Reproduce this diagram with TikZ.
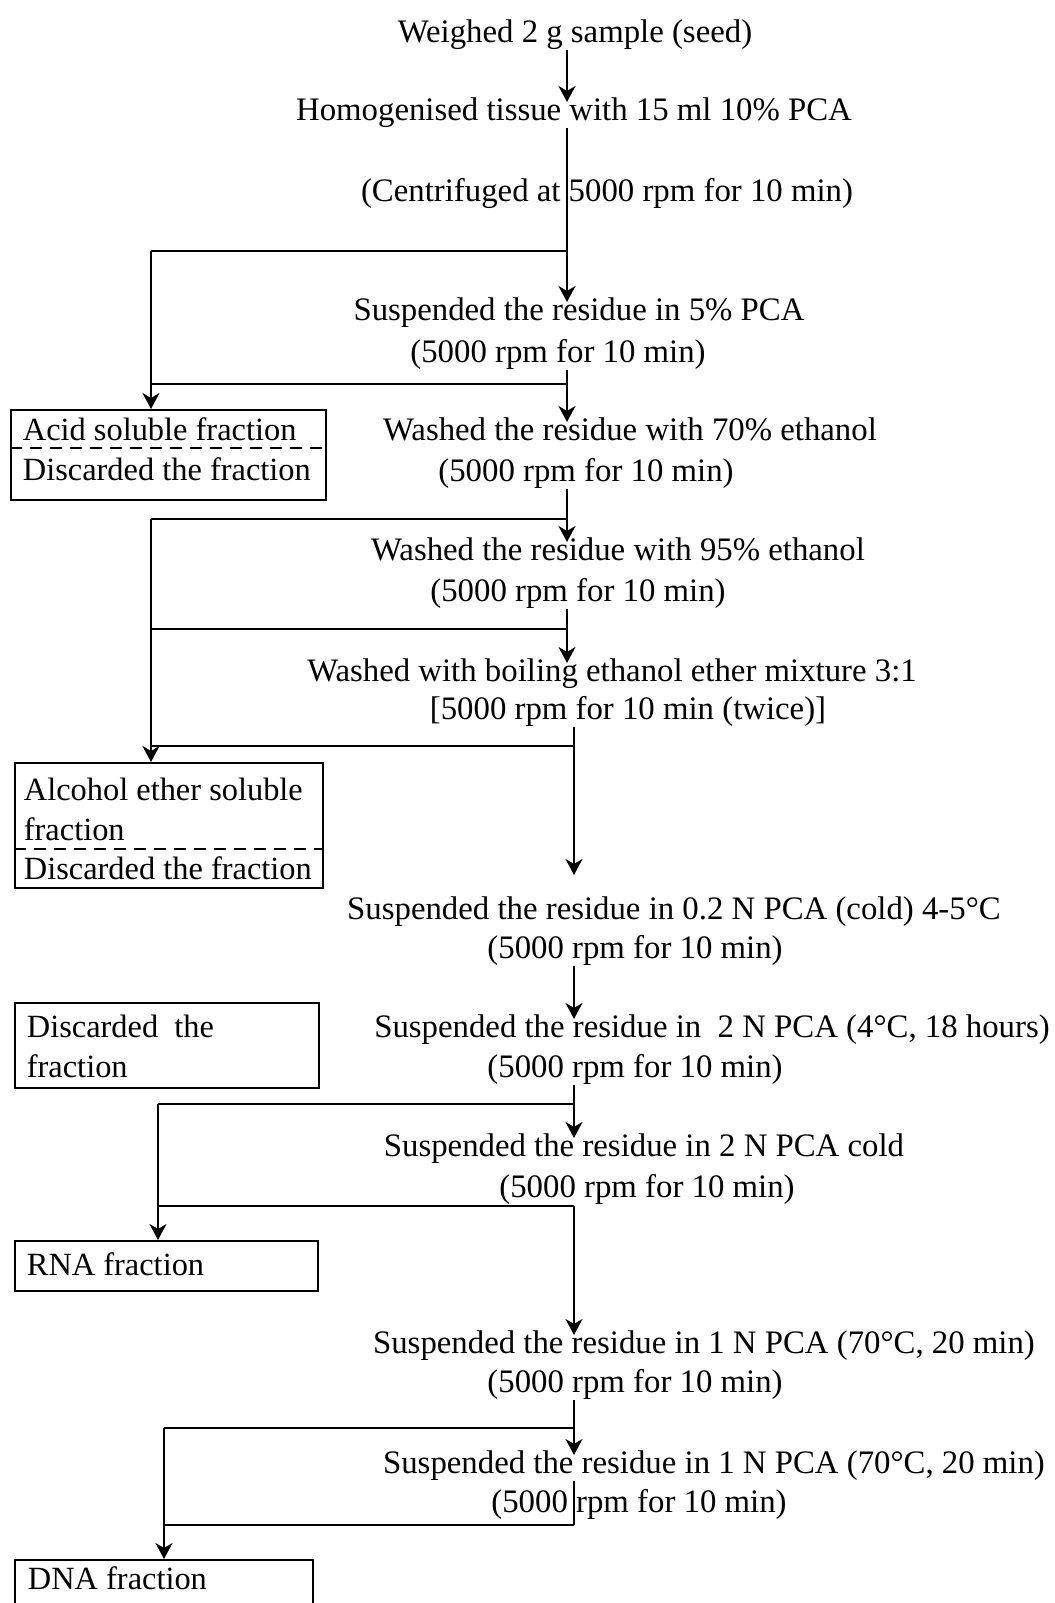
\documentclass[tikz,border=0pt]{standalone}
\usepackage{fontspec}
\setmainfont{Liberation Serif}
\usetikzlibrary{arrows.meta}
\tikzset{
  stage/.style={text height=1.5ex,text depth=.25ex,inner xsep=0pt,inner ysep=2pt,yshift=-3pt},
  fracbox/.style={draw,line width=0.9pt,anchor=north west,align=left,inner ysep=0pt,
    font=\fontsize{16.2}{19.7}\selectfont,execute at begin node={\spaceskip=0pt\xspaceskip=0pt\relax}},
  divider/.style={line width=0.9pt,dash pattern=on 6pt off 4pt}
}
\newcommand{\drawBranch}[5]{% main line, side x, top y, bottom y, box
  \draw (#1 |- 0,#3) to (#2,#3);
  \draw (#1 |- 0,#4) to (#2,#4);
  \draw[->] (#2,#3) to (#5.north -| #2,0);
}

\begin{document}
\begin{tikzpicture}[x=0.5pt,y=-0.5pt,>={Stealth[length=8pt,width=8.5pt,inset=2.5pt]},line width=1pt,font=\fontsize{16.4}{19.7}\selectfont]
\useasboundingbox (0,0) rectangle (1055,1603);
\coordinate (spine) at (567,0);
\coordinate (spineB) at (574,0);

% Steps
\node[stage] (weigh) at (575,31) {Weighed 2 g sample (seed)};
\node[stage] (homog) at (574,109) {Homogenised tissue with 15 ml 10\% PCA};
\node[stage] (centr) at (607,190) {(Centrifuged at 5000 rpm for 10 min)};
\node[stage] (pcaA) at (579,309) {Suspended the residue in 5\% PCA};
\node[stage] (pcaAr) at (558,351) {(5000 rpm for 10 min)};
\node[stage] (ethA) at (630,429) {Washed the residue with 70\% ethanol};
\node[stage] (ethAr) at (586,470) {(5000 rpm for 10 min)};
\node[stage] (ethB) at (618,549) {Washed the residue with 95\% ethanol};
\node[stage] (ethBr) at (578,590) {(5000 rpm for 10 min)};
\node[stage] (boil) at (612,670) {Washed with boiling ethanol ether mixture 3:1};
\node[stage] (boilr) at (628,708) {[5000 rpm for 10 min (twice)]};
\node[stage] (cold) at (674,908) {Suspended the residue in 0.2 N PCA (cold) 4-5°C};
\node[stage] (coldr) at (635,947) {(5000 rpm for 10 min)};
\node[stage] (twoN) at (712,1026) {Suspended the residue in~ 2 N PCA (4°C, 18 hours)};
\node[stage] (twoNr) at (635,1066) {(5000 rpm for 10 min)};
\node[stage] (twoNc) at (644,1145) {Suspended the residue in 2 N PCA cold};
\node[stage] (twoNcr) at (647,1186) {(5000 rpm for 10 min)};
\node[stage] (oneN) at (704,1342) {Suspended the residue in 1 N PCA (70°C, 20 min)};
\node[stage] (oneNr) at (635,1381) {(5000 rpm for 10 min)};
\node[stage] (oneNb) at (714,1462) {Suspended the residue in 1 N PCA (70°C, 20 min)};
\node[stage] (oneNbr) at (639,1501) {(5000 rpm for 10 min)};

% Fractions
\node[fracbox,inner xsep=6pt,text width=145.5pt,text height=15.5pt,text depth=29.5pt] (acid) at (10,409) {Acid soluble fraction\\Discarded the fraction};
\node[fracbox,inner xsep=4.5pt,text width=145pt,text height=19pt,text depth=43.5pt] (alcohol) at (14,762) {Alcohol ether soluble\\fraction\\Discarded the fraction};
\node[fracbox,inner xsep=6pt,text width=140pt,text height=17.5pt,text depth=25pt] (discard) at (14,1002) {Discarded~ the\\fraction};
\node[fracbox,inner xsep=6pt,text width=139.5pt,text height=17.5pt,text depth=7.5pt] (rna) at (14,1240) {RNA fraction};
\node[fracbox,inner xsep=6.5pt,text width=136pt,text height=15pt,text depth=30pt] (dna) at (14,1559) {DNA fraction};
\draw[divider] (acid.west |- 0,448) to (acid.east |- 0,448);
\draw[divider] (alcohol.west |- 0,849) to (alcohol.east |- 0,849);

% Main line
\draw[->] (weigh.south -| spine) to (homog.north -| spine);
\draw[->] (homog.south -| spine) to (pcaA.north -| spine);
\draw[->] (pcaAr.south -| spine) to (ethA.north -| spine);
\draw[->] (ethAr.south -| spine) to (ethB.north -| spine);
\draw[->] (ethBr.south -| spine) to (boil.north -| spine);
\draw[->,shorten >=13pt] (boilr.south -| spineB) to (cold.north -| spineB);
\draw[->] (coldr.south -| spineB) to (twoN.north -| spineB);
\draw[->] (twoNr.south -| spineB) to (twoNc.north -| spineB);
\draw[->] (spineB |- 0,1206) to (oneN.north -| spineB);
\draw[->] (oneNr.south -| spineB) to (oneNb.north -| spineB);
\draw (oneNb.south -| spineB) to (spineB |- 0,1525);

% Side branches
\drawBranch{spine}{151}{251}{384}{acid}
\drawBranch{spine}{151}{519}{629}{alcohol}
\draw (spineB |- 0,746) to (151,746);
\drawBranch{spineB}{158}{1104}{1206}{rna}
\drawBranch{spineB}{164}{1428}{1525}{dna}

\end{tikzpicture}
\end{document}
